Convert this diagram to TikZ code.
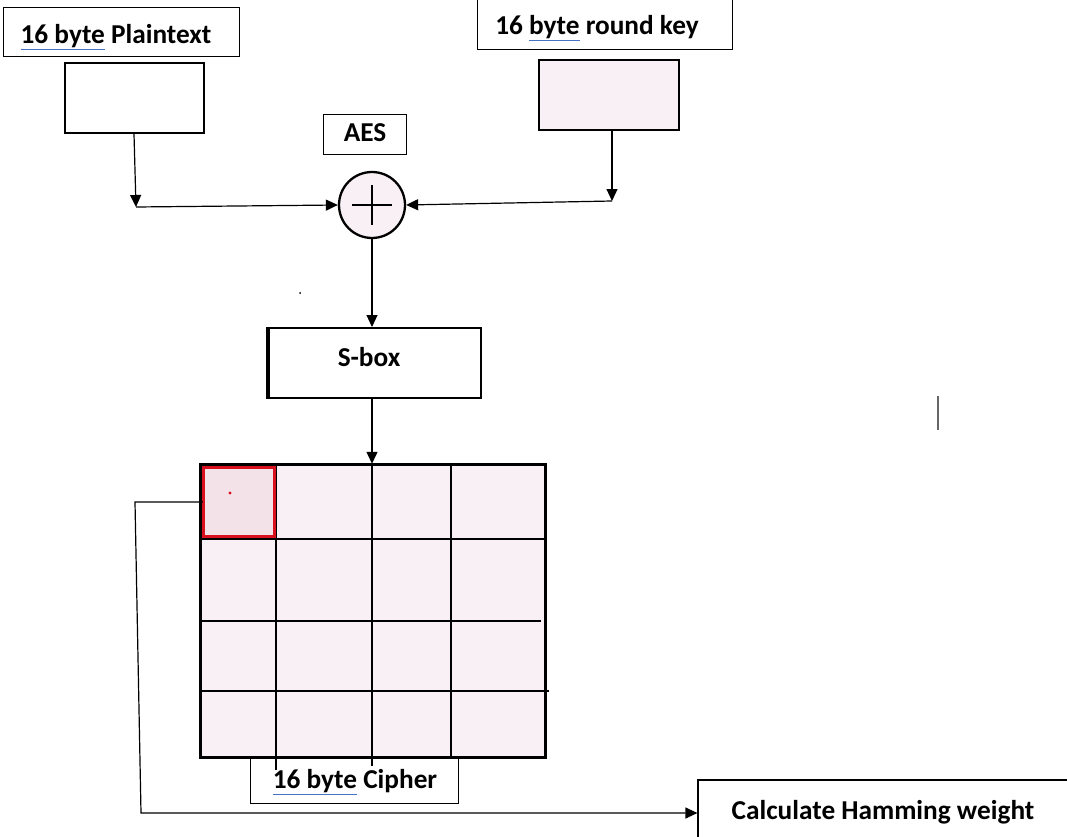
\documentclass[tikz,border=0pt]{standalone}
\usepackage{fontspec}
\setmainfont{Carlito}
\usetikzlibrary{arrows.meta}
\definecolor{lpink}{HTML}{F8F0F4}
\definecolor{cellpink}{HTML}{F3E3E9}
\definecolor{cellred}{HTML}{D9101E}
\definecolor{ulblue}{HTML}{4472C4}
\newcommand{\spellul}[1]{{\color{ulblue}\underline{\color{black}#1}}}
\tikzset{
  lbl/.style={draw, line width=0.9pt, inner sep=0pt},
  blk/.style={draw, line width=2pt, inner sep=0pt},
  txt/.style={anchor=base, inner sep=0pt, font=\fontsize{27.3}{32}\selectfont\bfseries},
  arr/.style={line width=1.2pt, -{Triangle[length=12pt,width=11pt]}},
  gridl/.style={line width=1.6pt},
}
\begin{document}
\begin{tikzpicture}[x=1pt,y=-1pt]
\useasboundingbox (0,0) rectangle (1067,837);
% labels
\node[lbl, minimum width=236pt, minimum height=49pt] (ptlabel) at (121,31.5) {};
\node[txt] (pttext) at (116,44) {\spellul{16 byte} Plaintext};
\node[lbl, minimum width=255pt, minimum height=53pt] (keylabel) at (604.5,22.5) {};
\node[txt] (keytext) at (597,35) {16 \spellul{byte} round key};
\node[lbl, minimum width=83pt, minimum height=40pt] (aeslabel) at (364.5,134) {};
\node[txt] (aestext) at (365,142) {AES};
% blocks
\node[blk, minimum width=139pt, minimum height=70pt] (ptbox) at (134.5,98) {};
\node[blk, fill=lpink, minimum width=140pt, minimum height=70pt] (keybox) at (609,95) {};
\node[draw, line width=2.3pt, fill=lpink, circle, minimum size=66pt, inner sep=0pt] (xor) at (372,205) {};
\draw[line width=2.6pt] ([xshift=-20pt]xor.center) -- ([xshift=20pt]xor.center)
      ([yshift=-20pt]xor.center) -- ([yshift=20pt]xor.center);
\node[blk, minimum width=213pt, minimum height=70pt] (sbox) at (374.5,363) {};
\draw[line width=4pt] ([xshift=1pt]sbox.north west) -- ([xshift=1pt]sbox.south west);
\node[txt] (sboxtext) at (369,366) {S-box};
% connectors
\coordinate (pc) at (136,207);
\coordinate (kc) at (612,201);
\draw[arr] (ptbox.south -| 134,0) -- (pc);
\draw[arr] (pc) -- (xor.west);
\draw[arr] (keybox.south -| kc) -- (kc);
\draw[arr] (kc) -- (xor.east);
\draw[arr] (xor.south) -- (sbox.north -| xor.south);
% cipher label (under grid)
\node[lbl, minimum width=208pt, minimum height=52pt] (cipherlabel) at (354,777) {};
\node[txt] (ciphertext) at (355,788) {\spellul{16 byte} Cipher};
% grid
\node[draw, line width=2.4pt, fill=lpink, minimum width=344pt, minimum height=292pt, inner sep=0pt] (grid) at (373,611) {};
\node[draw=cellred, line width=2.2pt, fill=cellpink, minimum width=70pt, minimum height=68pt, inner sep=0pt] (cell) at (239,502) {};
\fill[cellred] (230,493) circle (1.6pt);
\draw[gridl] (276,465) -- (276,770);
\draw[gridl] (372,465) -- (372,766);
\draw[gridl] (451,465) -- (451,757);
\draw[gridl] (201,539) -- (545,539);
\draw[gridl] (201,621) -- (541,621);
\draw[gridl] (201,691) -- (549,691);
\draw[line width=2.4pt] (grid.north west) rectangle (grid.south east);
\draw[draw=cellred, line width=2.2pt] (cell.north west) rectangle (cell.south east);
\draw[arr] (sbox.south -| 372,0) -- (grid.north -| 372,0);
% hamming
\node[lbl, line width=1.2pt, minimum width=380pt, minimum height=62pt] (ham) at (888,811) {};
\node[txt] (hamtext) at (883,819) {Calculate Hamming weight};
\coordinate (lc1) at (135,502);
\coordinate (lc2) at (141,813);
\draw[arr] (cell.west) -- (lc1) -- (lc2) -- (ham.west |- lc2);
% stray marks
\draw[line width=1.5pt, gray!80!black] (938,396) -- (938,430);
\fill (300,293) circle (1pt);
\end{tikzpicture}
\end{document}
